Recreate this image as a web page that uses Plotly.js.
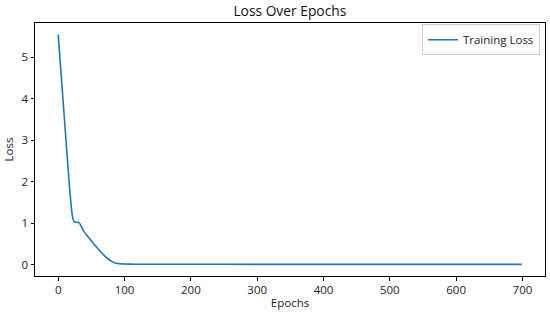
<!DOCTYPE html>
<html>
<head>
<meta charset="utf-8">
<script src="https://cdn.plot.ly/plotly-3.0.1.min.js"></script>
<style>
  body { margin: 0; background: #fff; }
  #graphics { width: 550px; height: 316px; }
</style>
</head>
<body>
<div id="graphics"></div>
<script>
// loss values
var epochs = [0, 3, 6, 9, 12, 15, 18, 20, 22, 24, 26, 30, 33, 36, 40, 45, 50, 55, 60, 65, 70, 75, 80, 85, 90, 95, 100, 110, 120, 150, 200, 300, 400, 500, 600, 699];
var loss = [5.55, 4.9, 4.25, 3.6, 2.95, 2.3, 1.7, 1.35, 1.12, 1.04, 1.02, 1.02, 0.98, 0.88, 0.77, 0.67, 0.57, 0.47, 0.38, 0.29, 0.21, 0.14, 0.08, 0.045, 0.025, 0.016, 0.012, 0.009, 0.007, 0.006, 0.005, 0.004, 0.004, 0.004, 0.004, 0.004];
var xTicks = [0, 100, 200, 300, 400, 500, 600, 700];
var yTicks = [0, 1, 2, 3, 4, 5];

var font = 'Open Sans, sans-serif';

var trace = {
  x: epochs,
  y: loss,
  type: 'scatter',
  mode: 'lines',
  name: 'Training Loss',
  line: {color: '#1f77b4', width: 1.6, shape: 'spline', smoothing: 0.6}
};

var axisStyle = {
  showline: true,
  mirror: true,
  linecolor: '#000',
  linewidth: 1,
  showgrid: false,
  zeroline: false,
  ticks: 'outside',
  ticklen: 3.5,
  tickcolor: '#000',
  tickfont: {family: font, size: 11.5, color: '#222'}
};

var layout = {
  width: 550,
  height: 316,
  margin: {l: 35, r: 5, t: 23, b: 40},
  paper_bgcolor: '#fff',
  plot_bgcolor: '#fff',
  title: {text: 'Loss Over Epochs', font: {family: font, size: 13.8, color: '#111'}, x: 0.527, xanchor: 'center', y: 0.965, yanchor: 'middle'},
  xaxis: Object.assign({}, axisStyle, {
    range: [-34.95, 733.95],
    tickvals: xTicks,
    title: {text: 'Epochs', font: {family: font, size: 11.5, color: '#222'}, standoff: 2}
  }),
  yaxis: Object.assign({}, axisStyle, {
    range: [-0.2775, 5.8275],
    tickvals: yTicks,
    title: {text: 'Loss', font: {family: font, size: 11.5, color: '#222'}, standoff: 5}
  }),
  showlegend: true,
  legend: {
    x: 0.99, xanchor: 'right',
    y: 0.995, yanchor: 'top',
    bgcolor: 'rgba(255,255,255,0.8)',
    bordercolor: '#ccc',
    borderwidth: 1,
    font: {family: font, size: 11.5, color: '#222'}
  }
};

Plotly.newPlot('graphics', [trace], layout, {staticPlot: true});
</script>
</body>
</html>
